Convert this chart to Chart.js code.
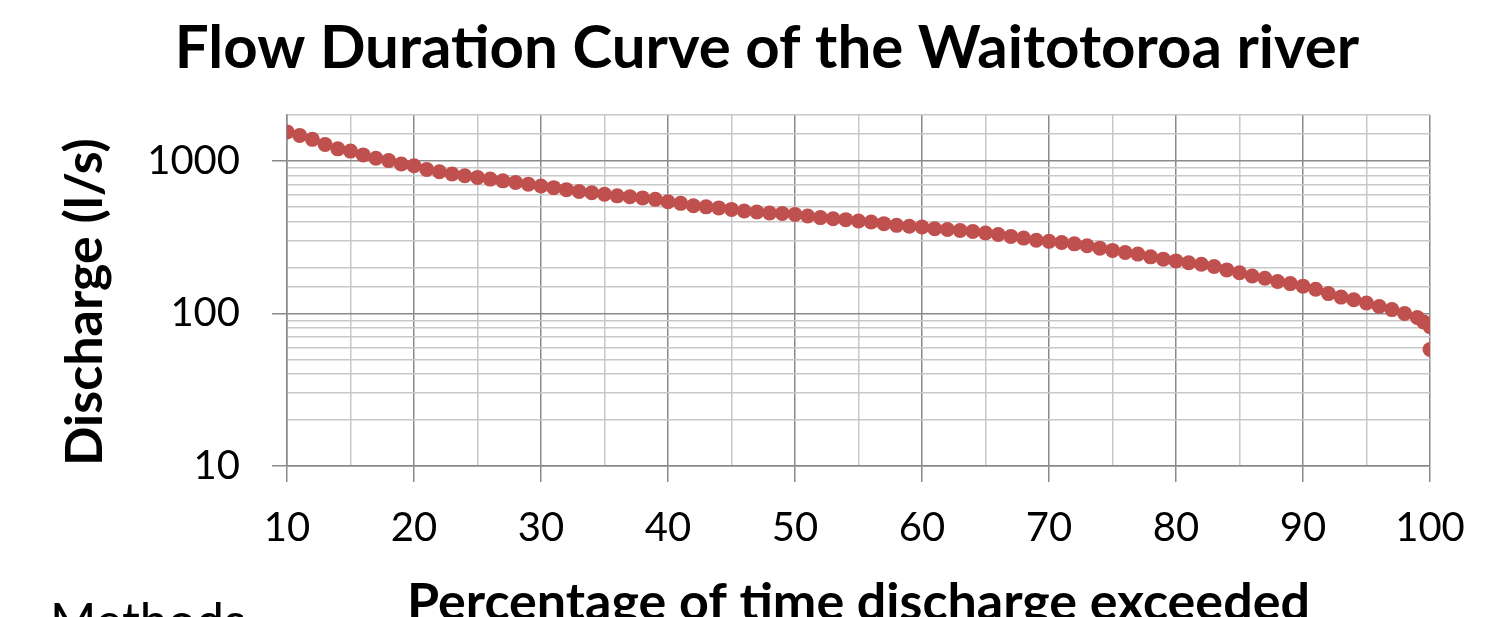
<!DOCTYPE html>
<html>
<head>
<meta charset="utf-8">
<script src="https://cdn.jsdelivr.net/npm/chart.js@4.4.1/dist/chart.umd.min.js"></script>
<style>
  html, body { margin: 0; padding: 0; background: #fff; overflow: hidden; }
  #wrap { position: relative; width: 1494px; height: 660px; }
  #note { position: absolute; left: 50px; top: 590px; font: 50px Lato, sans-serif; color: #000; }
</style>
</head>
<body>
<div id="wrap">
  <canvas id="fdcChart"></canvas>
  <div id="note">Methods</div>
</div>
<script>
// Percentage of time exceeded and the discharge read at each point (l/s)
const percentExceeded = [
  10, 11, 12, 13, 14, 15, 16, 17, 18, 19,
  20, 21, 22, 23, 24, 25, 26, 27, 28, 29,
  30, 31, 32, 33, 34, 35, 36, 37, 38, 39,
  40, 41, 42, 43, 44, 45, 46, 47, 48, 49,
  50, 51, 52, 53, 54, 55, 56, 57, 58, 59,
  60, 61, 62, 63, 64, 65, 66, 67, 68, 69,
  70, 71, 72, 73, 74, 75, 76, 77, 78, 79,
  80, 81, 82, 83, 84, 85, 86, 87, 88, 89,
  90, 91, 92, 93, 94, 95, 96, 97, 98, 99,
  99.5, 100, 100
];
const discharge = [
  1550, 1470, 1385, 1280, 1200, 1160, 1095, 1040, 1005, 955,
  930, 880, 850, 820, 800, 780, 760, 740, 722, 704,
  685, 668, 648, 630, 618, 605, 590, 582, 572, 560,
  540, 527, 508, 500, 492, 481, 470, 463, 456, 452,
  446, 435, 425, 418, 412, 404, 398, 388, 378, 373,
  369, 359, 355, 350, 345, 337, 329, 320, 312, 302,
  297, 292, 286, 278, 268, 259, 251, 245, 235, 227,
  221, 215, 210, 203, 193, 185, 176, 170, 162, 157,
  151, 144, 135, 128, 123, 117, 111, 106, 100, 94,
  88, 82, 58
];
const xLabelTicks = [10, 20, 30, 40, 50, 60, 70, 80, 90, 100];
const yLabelTicks = [10, 100, 1000];

const points = percentExceeded.map((p, i) => ({ x: p, y: discharge[i] }));

const majorGrid = "#8a8a8a";
const minorGrid = "#c8c8c8";

const ctx = document.getElementById("fdcChart").getContext("2d");

new Chart(ctx, {
  type: "scatter",
  data: {
    datasets: [
      {
        data: points,
        backgroundColor: "#C0504D",
        borderColor: "#C0504D",
        borderWidth: 0,
        pointRadius: 7.5,
        pointHoverRadius: 7.5,
      },
    ],
  },
  options: {
    responsive: true,
    maintainAspectRatio: false,
    animation: false,
    devicePixelRatio: 1,
    layout: { padding: { left: 104, right: 64, top: 0, bottom: 0 } },
    plugins: {
      legend: { display: false },
      tooltip: { enabled: false },
      title: {
        display: true,
        text: "Flow Duration Curve of the Waitotoroa river",
        color: "#000",
        font: { family: "Lato", size: 60, weight: "bold" },
        padding: { top: 13, bottom: 30 },
      },
    },
    scales: {
      x: {
        type: "linear",
        min: 10,
        max: 100,
        afterFit: (scale) => { scale.height = 194; },
        ticks: {
          stepSize: 5,
          autoSkip: false,
          maxRotation: 0,
          padding: 22,
          color: "#000",
          font: { family: "Lato", size: 40 },
          callback: (v) => (xLabelTicks.includes(v) ? String(v) : ""),
        },
        grid: {
          color: (c) => (c.tick && c.tick.value % 10 === 0 ? majorGrid : minorGrid),
          tickColor: (c) => (c.tick && c.tick.value % 10 === 0 ? majorGrid : "rgba(0,0,0,0)"),
          tickLength: 16,
          lineWidth: 1.5,
        },
        border: { color: majorGrid, width: 1.5 },
        title: {
          display: true,
          text: "Percentage of time discharge exceeded",
          color: "#000",
          font: { family: "Lato", size: 52, weight: "bold" },
          padding: { top: 0, bottom: 26 },
        },
      },
      y: {
        type: "logarithmic",
        min: 10,
        max: 2000,
        afterFit: (scale) => { scale.width = 183; },
        ticks: {
          autoSkip: false,
          padding: 32,
          color: "#000",
          font: { family: "Lato", size: 40 },
          callback: (v) => (yLabelTicks.includes(v) ? String(v) : ""),
        },
        grid: {
          color: (c) => (c.tick && yLabelTicks.includes(c.tick.value) ? majorGrid : minorGrid),
          tickColor: (c) => (c.tick && yLabelTicks.includes(c.tick.value) ? majorGrid : "rgba(0,0,0,0)"),
          tickLength: 15,
          lineWidth: 1.5,
        },
        border: { color: majorGrid, width: 1.5 },
        title: {
          display: true,
          align: "start",
          text: "Discharge (l/s)",
          color: "#000",
          font: { family: "Lato", size: 52, weight: "bold" },
          padding: { top: -50, bottom: 0 },
        },
      },
    },
  },
});
</script>
</body>
</html>
